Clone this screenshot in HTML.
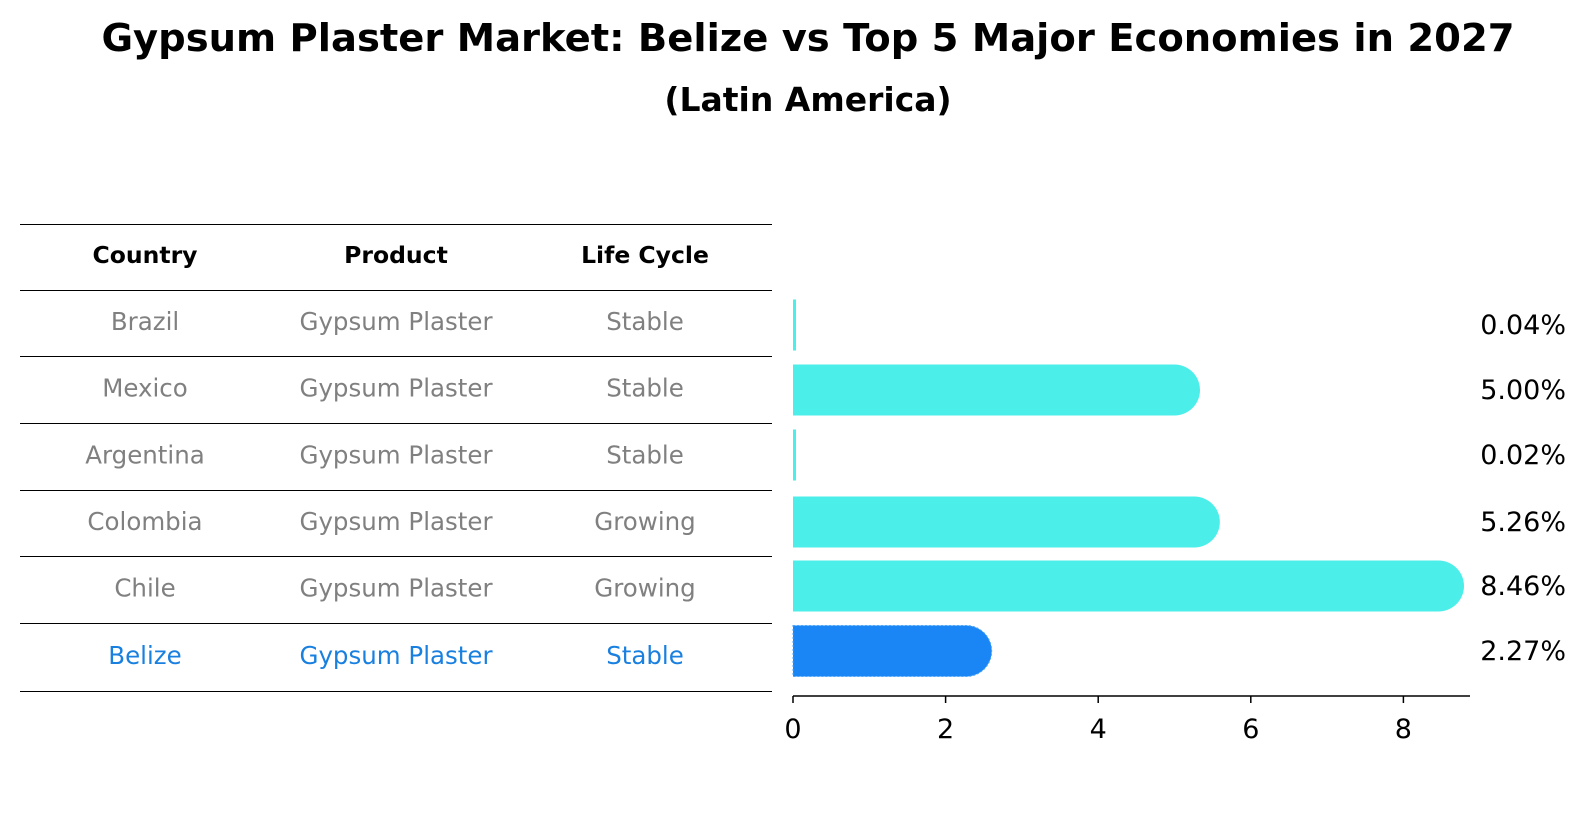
<!DOCTYPE html>
<html><head><meta charset="utf-8"><style>
body{margin:0;background:#fff;}
svg text{font-family:"DejaVu Sans","Liberation Sans",sans-serif;}
</style></head><body>
<svg id="chart" width="1586" height="823" viewBox="0 0 1586 823" xmlns="http://www.w3.org/2000/svg">
<text x="808" y="51" text-anchor="middle" font-size="38.5" font-weight="bold">Gypsum Plaster Market: Belize vs Top 5 Major Economies in 2027</text>
<text x="808" y="111" text-anchor="middle" font-size="33" font-weight="bold">(Latin America)</text>
<g id="table"></g>
<g id="bars"></g>
</svg>
<script>
const countries=["Brazil","Mexico","Argentina","Colombia","Chile","Belize"];
const products=["Gypsum Plaster","Gypsum Plaster","Gypsum Plaster","Gypsum Plaster","Gypsum Plaster","Gypsum Plaster"];
const lifeCycles=["Stable","Stable","Stable","Growing","Growing","Stable"];
const values=[0.04,5.00,0.02,5.26,8.46,2.27];
const valueLabels=["0.04%","5.00%","0.02%","5.26%","8.46%","2.27%"];
const ticks=[0,2,4,6,8];

const NS="http://www.w3.org/2000/svg";
function mk(tag,attrs,parent){const e=document.createElementNS(NS,tag);for(const k in attrs)e.setAttribute(k,attrs[k]);parent.appendChild(e);return e;}
const x0=793,unit=76.3;
function xs(v){return x0+v*unit;}
const lineYs=[224,290,356,423,490,556,623,691];
function rowY(i){return (lineYs[i+1]+lineYs[i+2])/2;}
const barCenters=[325,390,455,522,586,651];
const tbl=document.getElementById('table');
const cols=[145,396,645];
lineYs.forEach((y,i)=>{const l=mk('line',{x1:20,x2:772,y1:y+0.5,y2:y+0.5,stroke:'#000','stroke-width':1.1},tbl);

});
["Country","Product","Life Cycle"].forEach((h,j)=>{const t=mk('text',{x:cols[j],y:263,'text-anchor':'middle','font-size':23.5,'font-weight':'bold'},tbl);t.textContent=h;

});
countries.forEach((c,i)=>{
 const col=i===countries.length-1?'#1a80e0':'#808080';
 [c,products[i],lifeCycles[i]].forEach((s,j)=>{
  const t=mk('text',{x:cols[j],y:rowY(i)+7,'text-anchor':'middle','font-size':24.5,fill:col},tbl);t.textContent=s;
  
  
 });
});
const g=document.getElementById('bars');
const h=51,r=25.5;
values.forEach((v,i)=>{
 const cy=barCenters[i],top=cy-h/2;
 const isB=i===values.length-1;
 const fill=isB?'#1a86f5':'#4beee9';
 const xe=xs(v);
 let el;
 if(xe-x0<6){
  el=mk('rect',{x:x0,y:top,width:3,height:h,fill:fill},g);
 }else{
  el=mk('path',{d:`M${x0},${top} L${xe},${top} A${r},${r} 0 0 1 ${xe},${top+h} L${x0},${top+h} Z`,fill:fill},g);
  if(isB){el.setAttribute('stroke','#4da6ff');el.setAttribute('stroke-dasharray','2,2');el.setAttribute('stroke-width','1');}
 }
 
 
 const t=mk('text',{x:1566,y:cy+9,'text-anchor':'end','font-size':27},g);t.textContent=valueLabels[i];
 
 
});
const ax=mk('line',{x1:x0,x2:1470,y1:696,y2:696,stroke:'#000','stroke-width':1.5},g);


ticks.forEach(tv=>{
 const tk=mk('line',{x1:xs(tv),x2:xs(tv),y1:696,y2:703,stroke:'#000','stroke-width':1.5},g);
 
 
 const t=mk('text',{x:xs(tv),y:738,'text-anchor':'middle','font-size':27},g);t.textContent=tv;
 
 
});
</script>
</body></html>
